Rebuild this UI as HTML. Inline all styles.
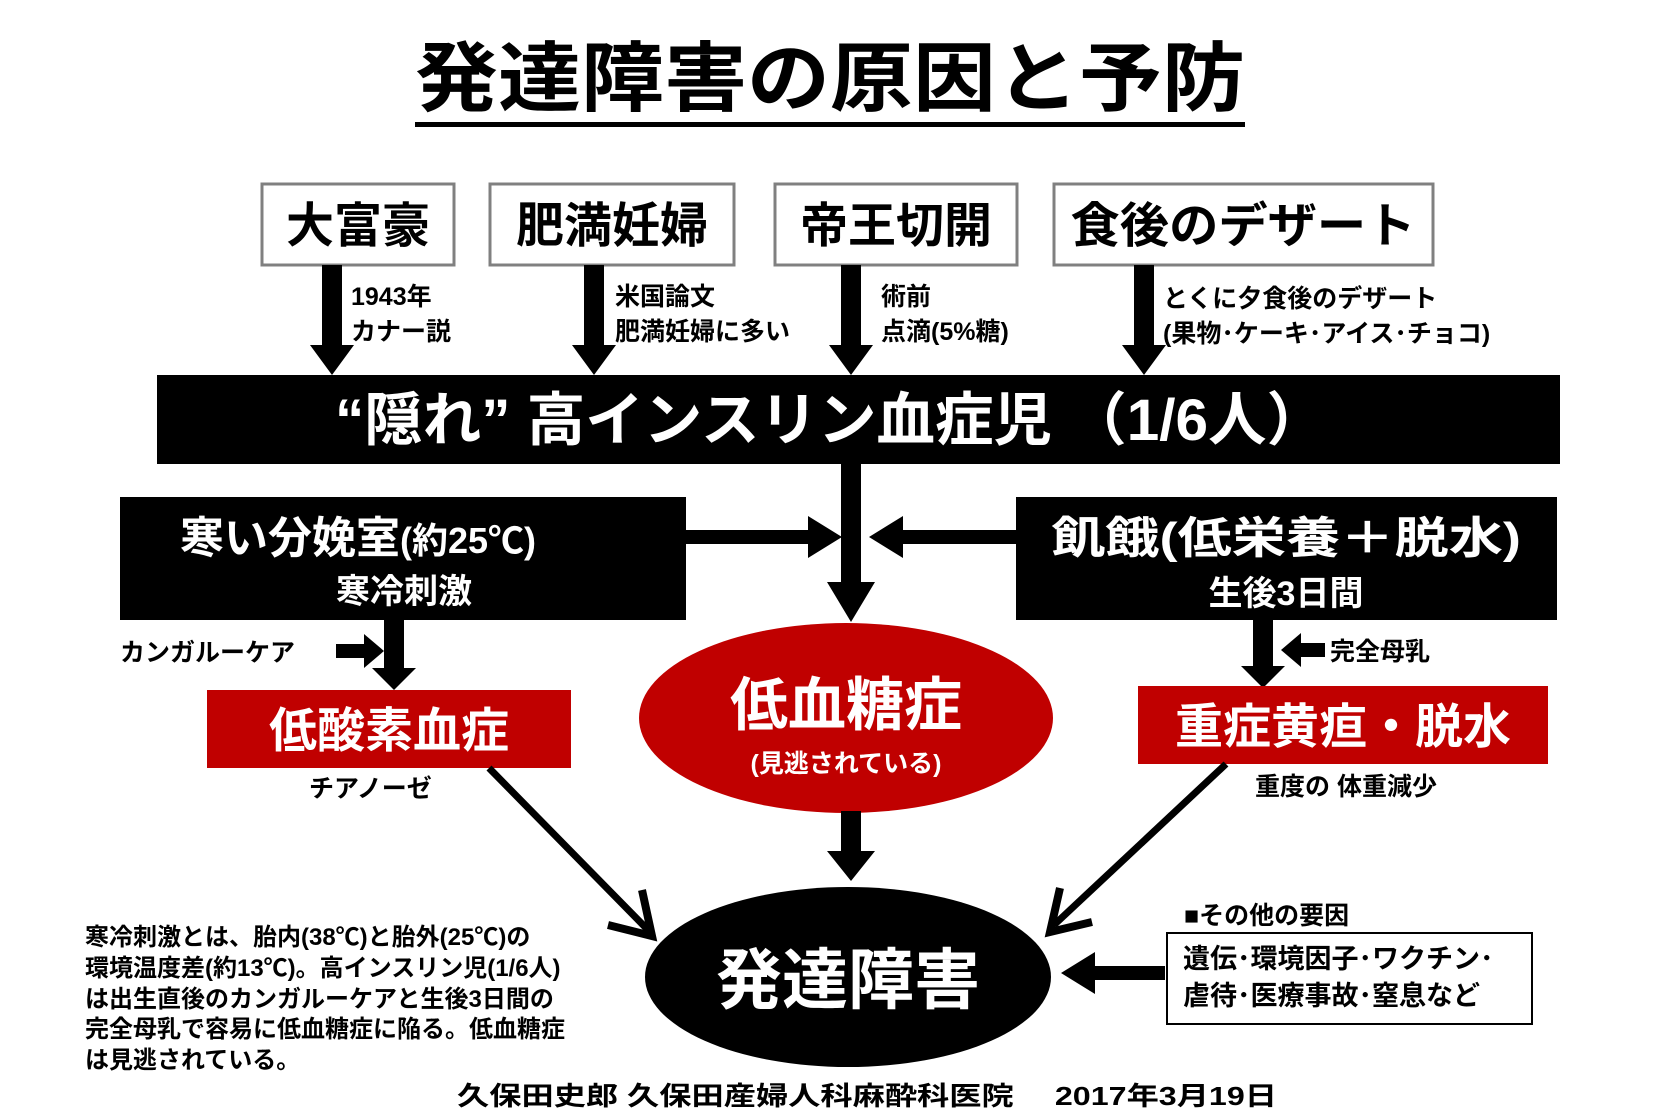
<!DOCTYPE html>
<html><head><meta charset="utf-8"><style>
html,body{margin:0;padding:0;background:#fff;}
svg{display:block;font-family:"Liberation Sans","Noto Sans CJK JP",sans-serif;font-weight:bold;}
</style></head><body>
<svg width="1660" height="1120" viewBox="0 0 1660 1120" xmlns="http://www.w3.org/2000/svg">
<!-- title -->
<text x="830" y="105" font-size="76" text-anchor="middle" textLength="830" lengthAdjust="spacingAndGlyphs">発達障害の原因と予防</text>
<rect x="415" y="122" width="830" height="5" fill="#000"/>

<!-- top boxes -->
<g fill="#fff" stroke="#808080" stroke-width="3">
<rect x="262" y="184" width="192" height="81"/>
<rect x="490" y="184" width="244" height="81"/>
<rect x="775" y="184" width="242" height="81"/>
<rect x="1054" y="184" width="379" height="81"/>
</g>
<g font-size="48" text-anchor="middle">
<text x="358" y="242">大富豪</text>
<text x="612" y="242">肥満妊婦</text>
<text x="896" y="242">帝王切開</text>
<text x="1243" y="242" textLength="345" lengthAdjust="spacingAndGlyphs">食後のデザート</text>
</g>

<!-- down arrows -->
<g fill="#000">
<path d="M322,265 h20 v80 h12 l-22,30 l-22,-30 h12 z"/>
<path d="M584,265 h20 v80 h12 l-22,30 l-22,-30 h12 z"/>
<path d="M841,265 h20 v80 h12 l-22,30 l-22,-30 h12 z"/>
<path d="M1134,265 h20 v80 h12 l-22,30 l-22,-30 h12 z"/>
</g>
<g font-size="25">
<text x="351" y="305">1943年</text>
<text x="351" y="340">カナー説</text>
<text x="615" y="305">米国論文</text>
<text x="615" y="340">肥満妊婦に多い</text>
<text x="881" y="305">術前</text>
<text x="881" y="340">点滴(5%糖)</text>
<text x="1163" y="307">とくに夕食後のデザート</text>
<text x="1163" y="342">(果物･ケーキ･アイス･チョコ)</text>
</g>

<!-- black bar -->
<rect x="157" y="375" width="1403" height="89" fill="#000"/>
<text x="830" y="440" font-size="58" fill="#fff" text-anchor="middle" textLength="990" lengthAdjust="spacingAndGlyphs">“隠れ” 高インスリン血症児 （1/6人）</text>

<!-- center arrow -->
<path d="M841,464 h20 v118 h14 l-24,40 l-24,-40 h14 z" fill="#000"/>

<!-- left/right black boxes -->
<rect x="120" y="497" width="566" height="123" fill="#000"/>
<rect x="1016" y="497" width="541" height="123" fill="#000"/>
<text x="180" y="553" font-size="44" fill="#fff">寒い分娩室<tspan font-size="36">(約25℃)</tspan></text>
<text x="404" y="603" font-size="34" fill="#fff" text-anchor="middle">寒冷刺激</text>
<text x="1286" y="553" font-size="44" fill="#fff" text-anchor="middle" textLength="470" lengthAdjust="spacingAndGlyphs">飢餓(低栄養＋脱水)</text>
<text x="1286" y="605" font-size="34" fill="#fff" text-anchor="middle">生後3日間</text>

<!-- horizontal arrows into center -->
<path d="M686,530 h122 v-14 l34,21 l-34,21 v-14 h-122 z" fill="#000"/>
<path d="M1016,530 h-113 v-14 l-34,21 l34,21 v-14 h113 z" fill="#000"/>

<!-- left branch -->
<path d="M384,620 h20 v48 h12 l-22,22 l-22,-22 h12 z" fill="#000"/>
<text x="120" y="661" font-size="25">カンガルーケア</text>
<path d="M336,644 h28 v-10 l20,17 l-20,17 v-10 h-28 z" fill="#000"/>
<rect x="207" y="690" width="364" height="78" fill="#c00000"/>
<text x="389" y="747" font-size="48" fill="#fff" text-anchor="middle">低酸素血症</text>
<text x="309" y="797" font-size="25">チアノーゼ</text>

<!-- right branch -->
<path d="M1253,620 h20 v46 h12 l-22,22 l-22,-22 h12 z" fill="#000"/>
<path d="M1325,643 h-24 v-10 l-20,17 l20,17 v-10 h24 z" fill="#000"/>
<text x="1330" y="660" font-size="25">完全母乳</text>
<rect x="1138" y="686" width="410" height="78" fill="#c00000"/>
<text x="1343" y="743" font-size="48" fill="#fff" text-anchor="middle">重症黄疸・脱水</text>
<text x="1255" y="795" font-size="25">重度の 体重減少</text>

<!-- hypoglycemia ellipse -->
<ellipse cx="846" cy="718" rx="207" ry="95" fill="#c00000"/>
<text x="846" y="725" font-size="58" fill="#fff" text-anchor="middle">低血糖症</text>
<text x="846" y="772" font-size="25" fill="#fff" text-anchor="middle">(見逃されている)</text>

<!-- arrow down to 発達障害 -->
<path d="M841,811 h20 v40 h14 l-24,30 l-24,-30 h14 z" fill="#000"/>

<!-- diagonal arrows -->
<line x1="489" y1="768" x2="648" y2="930" stroke="#000" stroke-width="7"/>
<path d="M608,925 L652,936 L642,890" fill="none" stroke="#000" stroke-width="8"/>
<line x1="1226" y1="764" x2="1054" y2="925" stroke="#000" stroke-width="7"/>
<path d="M1092,922 L1050,932 L1060,888" fill="none" stroke="#000" stroke-width="8"/>

<!-- 発達障害 ellipse -->
<ellipse cx="848" cy="977" rx="203" ry="90" fill="#000"/>
<text x="848" y="1003" font-size="66" fill="#fff" text-anchor="middle">発達障害</text>

<!-- other factors -->
<text x="1184" y="924" font-size="25">■その他の要因</text>
<rect x="1167" y="933" width="365" height="91" fill="#fff" stroke="#000" stroke-width="2"/>
<text x="1183" y="968" font-size="27">遺伝･環境因子･ワクチン･</text>
<text x="1183" y="1005" font-size="27">虐待･医療事故･窒息など</text>
<path d="M1165,966 h-70 v-14 l-34,21 l34,21 v-14 h70 z" fill="#000"/>

<!-- left paragraph -->
<g font-size="24">
<text x="85" y="945">寒冷刺激とは、胎内(38℃)と胎外(25℃)の</text>
<text x="85" y="976">環境温度差(約13℃)。高インスリン児(1/6人)</text>
<text x="85" y="1007">は出生直後のカンガルーケアと生後3日間の</text>
<text x="85" y="1037">完全母乳で容易に低血糖症に陥る。低血糖症</text>
<text x="85" y="1068">は見逃されている。</text>
</g>

<!-- footer -->
<text x="867" y="1105" font-size="26" text-anchor="middle" textLength="820" lengthAdjust="spacingAndGlyphs">久保田史郎 久保田産婦人科麻酔科医院　 2017年3月19日</text>
</svg>
</body></html>
